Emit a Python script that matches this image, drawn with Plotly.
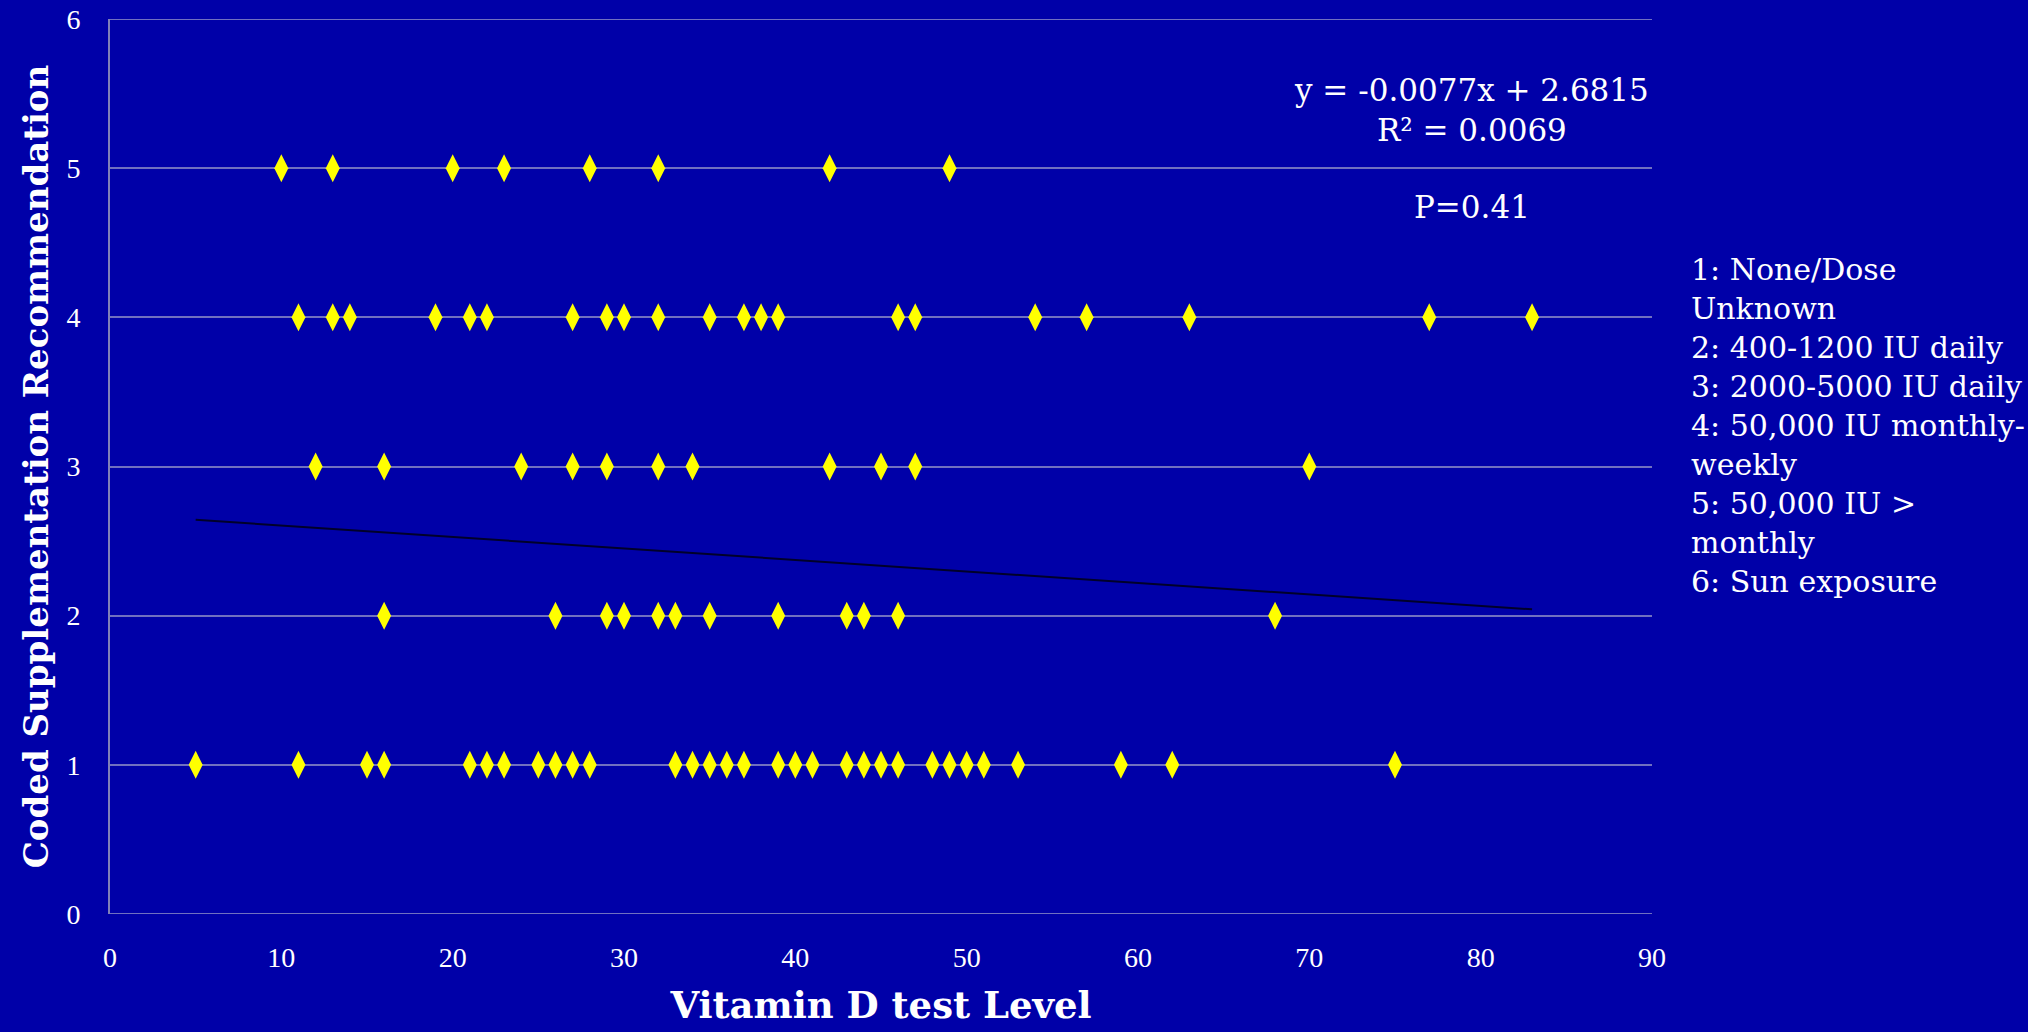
import plotly.graph_objects as go

# Data
code1_x = [5, 11, 15, 16, 21, 22, 23, 25, 26, 27, 28, 33, 34, 35, 36, 37, 39, 40, 41, 43, 44, 45, 46, 48, 49, 50, 51, 53, 59, 62, 75]
code2_x = [16, 26, 29, 30, 32, 33, 35, 39, 43, 44, 46, 68]
code3_x = [12, 16, 24, 27, 29, 32, 34, 42, 45, 47, 70]
code4_x = [11, 13, 14, 19, 21, 22, 27, 29, 30, 32, 35, 37, 38, 39, 46, 47, 54, 57, 63, 77, 83]
code5_x = [10, 13, 20, 23, 28, 32, 42, 49]

slope = -0.0077
intercept = 2.6815
trend_x = [5, 83]

x_ticks = [0, 10, 20, 30, 40, 50, 60, 70, 80, 90]
y_ticks = [0, 1, 2, 3, 4, 5, 6]

legend_lines = [
    "1: None/Dose",
    "Unknown",
    "2: 400-1200 IU daily",
    "3: 2000-5000 IU daily",
    "4: 50,000 IU monthly-",
    "weekly",
    "5: 50,000 IU >",
    "monthly",
    "6: Sun exposure",
]

xs = code1_x + code2_x + code3_x + code4_x + code5_x
ys = ([1] * len(code1_x) + [2] * len(code2_x) + [3] * len(code3_x)
      + [4] * len(code4_x) + [5] * len(code5_x))

BG = "#0000A8"
SERIF = "DejaVu Serif"
GRID = "#7070C0"

fig = go.Figure()
fig.add_trace(go.Scatter(
    x=trend_x, y=[slope * v + intercept for v in trend_x],
    mode="lines", line=dict(color="#00002A", width=2),
    hoverinfo="skip", showlegend=False))
fig.add_trace(go.Scatter(
    x=xs, y=ys, mode="markers",
    marker=dict(symbol="diamond-tall", size=20, color="#FFFF00", line=dict(width=0)),
    showlegend=False))

fig.update_layout(
    width=2028, height=1032,
    paper_bgcolor=BG, plot_bgcolor=BG,
    margin=dict(l=110, r=376, t=19, b=118),
    font=dict(family=SERIF, color="white"),
    showlegend=False,
)
fig.update_xaxes(
    range=[0, 90], tickvals=x_ticks, ticktext=[str(t) for t in x_ticks],
    showgrid=False, zeroline=False, showline=False, automargin=False,
    tickfont=dict(family="Liberation Serif", size=28, color="white"),
    ticks="", ticklabelstandoff=24,
    title=dict(text="<b>Vitamin D test Level</b>",
               font=dict(family=SERIF, size=37, color="white"), standoff=20),
)
fig.update_yaxes(
    range=[0, 6], tickvals=y_ticks, ticktext=[str(t) for t in y_ticks],
    showgrid=True, gridcolor=GRID, gridwidth=2, automargin=False,
    zeroline=False, showline=True, linecolor="#8080B8", linewidth=2,
    tickfont=dict(family="Liberation Serif", size=28, color="white"),
    ticks="", ticklabelstandoff=22,
    title=dict(text="<b>Coded Supplementation Recommendation</b>",
               font=dict(family=SERIF, size=34, color="white"), standoff=8),
)
# bottom baseline and top border line
for yv in (y_ticks[0], y_ticks[-1]):
    fig.add_shape(type="line", xref="paper", yref="y", x0=0, x1=1, y0=yv, y1=yv,
                  line=dict(color=GRID, width=2), layer="below")

fig.add_annotation(
    text="y = -0.0077x + 2.6815<br>R² = 0.0069",
    xref="paper", yref="paper", x=0.883, y=0.943, xanchor="center", yanchor="top",
    showarrow=False, align="center",
    font=dict(family=SERIF, size=31, color="white"))
fig.add_annotation(
    text="P=0.41",
    xref="paper", yref="paper", x=0.883, y=0.790, xanchor="center", yanchor="middle",
    showarrow=False, font=dict(family=SERIF, size=31, color="white"))
fig.add_annotation(
    text="<br>".join(legend_lines),
    xref="paper", yref="paper", x=1.024, y=0.742, xanchor="left", yanchor="top",
    showarrow=False, align="left",
    font=dict(family=SERIF, size=30, color="white"))

fig.write_html("out.html", config={"displayModeBar": False},
               post_script="document.body.style.margin='0';")
